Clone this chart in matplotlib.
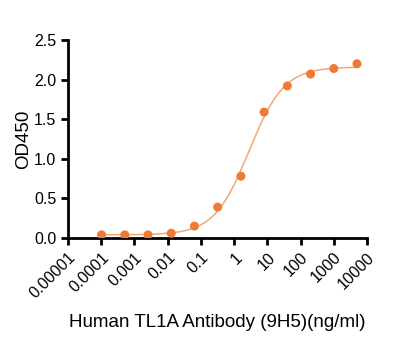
import numpy as np
import matplotlib
matplotlib.use("Agg")
import matplotlib.pyplot as plt
from matplotlib.ticker import FixedLocator, NullLocator

plt.rcParams['font.family'] = ['Liberation Sans', 'DejaVu Sans']

# Antibody concentration (ng/ml), 1:5 serial dilution
conc = [0.0001024, 0.000512, 0.00256, 0.0128, 0.064, 0.32, 1.6, 8, 40, 200, 1000, 5000]
od450 = [0.04, 0.04, 0.04, 0.06, 0.15, 0.39, 0.78, 1.59, 1.92, 2.07, 2.14, 2.20]

x_ticks = [1e-5, 1e-4, 1e-3, 1e-2, 1e-1, 1, 10, 100, 1000, 10000]
x_labels = ["0.00001", "0.0001", "0.001", "0.01", "0.1", "1", "10", "100", "1000", "10000"]
y_ticks = [0.0, 0.5, 1.0, 1.5, 2.0, 2.5]

dot_color = "#F07A35"
line_color = "#F2A67A"


def four_pl(x, bottom, top, ec50, hill):
    return bottom + (top - bottom) / (1 + (ec50 / x) ** hill)


# crude grid fit of a 4PL curve to the points
lx = np.array(conc)
ly = np.array(od450)
best = None
for top in np.linspace(2.1, 2.4, 16):
    for lec in np.linspace(-0.2, 1.0, 49):
        for hill in np.linspace(0.5, 1.3, 33):
            pred = four_pl(lx, 0.04, top, 10 ** lec, hill)
            err = np.sum((pred - ly) ** 2)
            if best is None or err < best[0]:
                best = (err, top, 10 ** lec, hill)
_, top, ec50, hill = best

xs = np.logspace(np.log10(conc[0]), np.log10(conc[-1]), 300)

fig = plt.figure(figsize=(4.19, 3.49), dpi=100)
ax = fig.add_axes([68 / 419, 111 / 349, 299 / 419, 198 / 349])

ax.plot(xs, four_pl(xs, 0.04, top, ec50, hill), color=line_color, lw=1.1, zorder=2)
ax.scatter(conc, od450, s=42, color=dot_color, zorder=3, edgecolors='none')

ax.set_xscale('log')
ax.set_xlim(1e-5, 1e4)
ax.set_ylim(0, 2.5)
ax.xaxis.set_major_locator(FixedLocator(x_ticks))
ax.xaxis.set_minor_locator(NullLocator())
ax.set_xticklabels(x_labels, rotation=45, ha='right', rotation_mode='anchor')
ax.set_yticks(y_ticks)
ax.set_yticklabels([f"{v:.1f}" for v in y_ticks])

for s in ['top', 'right']:
    ax.spines[s].set_visible(False)
for s in ['left', 'bottom']:
    ax.spines[s].set_linewidth(2)
ax.tick_params(axis='both', width=2, length=5, labelsize=11.5, color='black')

ax.set_ylabel("OD450", fontsize=13.5, labelpad=1)
ax.set_xlabel("Human TL1A Antibody (9H5)(ng/ml)", fontsize=13.5, labelpad=9)

fig.savefig("out.png", dpi=100)
